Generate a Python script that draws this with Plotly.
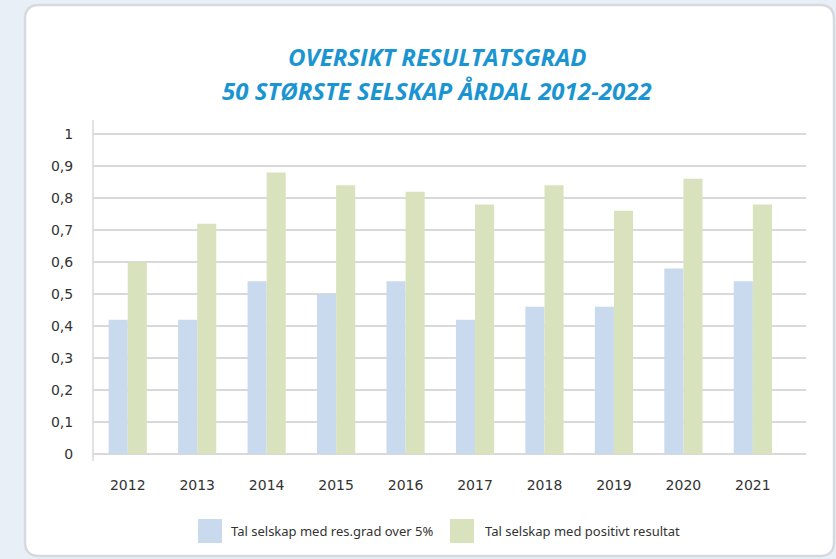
import plotly.graph_objects as go

years = ["2012", "2013", "2014", "2015", "2016", "2017", "2018", "2019", "2020", "2021"]
res_grad_over_5 = [0.42, 0.42, 0.54, 0.50, 0.54, 0.42, 0.46, 0.46, 0.58, 0.54]
positivt_resultat = [0.60, 0.72, 0.88, 0.84, 0.82, 0.78, 0.84, 0.76, 0.86, 0.78]
series_names = ["Tal selskap med res.grad over 5%", "Tal selskap med positivt resultat"]
series_colors = ["#c9daee", "#d8e3bd"]
ytick_vals = [0, 0.1, 0.2, 0.3, 0.4, 0.5, 0.6, 0.7, 0.8, 0.9, 1.0]
title_lines = ["OVERSIKT RESULTATSGRAD", "50 STØRSTE SELSKAP ÅRDAL 2012-2022"]

W, H = 836, 559
L, R, T, B = 93, 30, 120, 105
PW, PH = W - L - R, H - T - B


def fx(px):
    return (px - L) / PW


def fy(py):
    return (H - B - py) / PH


fig = go.Figure()
for name, vals, col in zip(series_names, [res_grad_over_5, positivt_resultat], series_colors):
    fig.add_trace(go.Bar(x=years, y=vals, name=name, marker=dict(color=col, line=dict(width=0)),
                         showlegend=False))

# card with rounded corners
x0, x1, y0, y1, r = 25, 834, 5, 556, 14
path = (f"M {fx(x0 + r)} {fy(y0)} L {fx(x1 - r)} {fy(y0)} Q {fx(x1)} {fy(y0)} {fx(x1)} {fy(y0 + r)} "
        f"L {fx(x1)} {fy(y1 - r)} Q {fx(x1)} {fy(y1)} {fx(x1 - r)} {fy(y1)} "
        f"L {fx(x0 + r)} {fy(y1)} Q {fx(x0)} {fy(y1)} {fx(x0)} {fy(y1 - r)} "
        f"L {fx(x0)} {fy(y0 + r)} Q {fx(x0)} {fy(y0)} {fx(x0 + r)} {fy(y0)} Z")
shapes = [dict(type="path", path=path, xref="paper", yref="paper", fillcolor="white",
               line=dict(color="#d6d9de", width=2.5), layer="below")]
# y-axis line extension
shapes.append(dict(type="line", xref="paper", yref="paper", x0=fx(93), x1=fx(93), y0=fy(120), y1=fy(461),
                   line=dict(color="#d9d9d9", width=1.5), layer="below"))

annotations = []
for i, line in enumerate(title_lines):
    annotations.append(dict(text=f"<i>{line}</i>", xref="paper", yref="paper",
                            x=fx(437), y=fy(56 + 34 * i), xanchor="center", yanchor="middle",
                            showarrow=False,
                            font=dict(family="Open Sans", size=24, weight=700, color="#1b95d2")))

# legend
leg_sq = [(198, 222), (450, 474)]
leg_tx = [229, 483]
for (sx0, sx1), tx, name, col in zip(leg_sq, leg_tx, series_names, series_colors):
    shapes.append(dict(type="rect", xref="paper", yref="paper", x0=fx(sx0), x1=fx(sx1),
                       y0=fy(519), y1=fy(543), fillcolor=col, line=dict(width=0)))
    annotations.append(dict(text=name, xref="paper", yref="paper", x=fx(tx), y=fy(531),
                            xanchor="left", yanchor="middle", showarrow=False,
                            font=dict(family="Noto Sans", size=13, color="#333333")))

fig.update_layout(
    width=W, height=H,
    margin=dict(l=L, r=R, t=T, b=B),
    paper_bgcolor="#e9eff7",
    plot_bgcolor="rgba(0,0,0,0)",
    separators=", ",
    barmode="group",
    bargap=0.45,
    bargroupgap=0,
    shapes=shapes,
    annotations=annotations,
    showlegend=False,
    font=dict(family="DejaVu Sans", size=14, color="#333333"),
)
fig.update_xaxes(range=[-0.5, 9.765], showgrid=False, showline=False, zeroline=False, ticks="outside",
                 ticklen=18, tickcolor="rgba(0,0,0,0)",
                 tickfont=dict(family="DejaVu Sans", size=14, color="#333333"))
fig.update_yaxes(range=[0, 1.044], tickvals=ytick_vals, showgrid=True, gridcolor="#d9d9d9", gridwidth=1.5,
                 zeroline=True, zerolinecolor="#d9d9d9", zerolinewidth=1.5, showline=False,
                 ticks="outside", ticklen=16, tickcolor="rgba(0,0,0,0)",
                 tickfont=dict(family="DejaVu Sans", size=14, color="#333333"))

fig.write_html("out.html")
